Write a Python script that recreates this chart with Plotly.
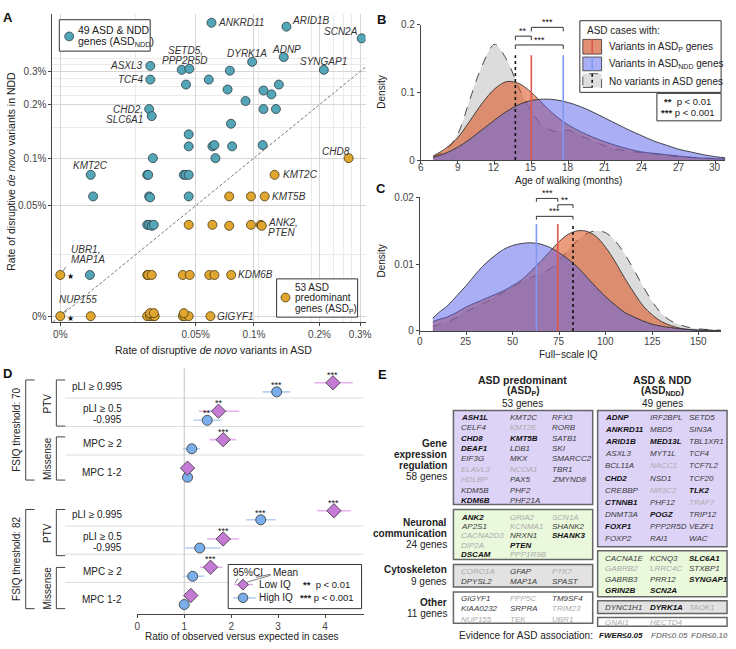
import numpy as np
import plotly.graph_objects as go

W, H = 736, 649
FONT = "Liberation Sans, Arial, Helvetica, sans-serif"
TXT = "#222222"
AX = "#444444"


def PX(x):
    return x / W


def PY(y):
    return 1 - y / H


def T(v):
    return np.log10(np.asarray(v, dtype=float) + 0.02)


# ======================= Panel A data (rates, %) =======================
A_TICKS = [0, 0.05, 0.1, 0.2, 0.3]
A_TICK_TEXT = ["0%", "0.05%", "0.1%", "0.2%", "0.3%"]
A_MINOR_X = [0.02, 0.105, 0.185, 0.23, 0.255, 0.275]
A_MINOR_Y = [0.02, 0.15, 0.225, 0.25, 0.275, 0.325, 0.35]

NDD_X = [0.061, 0.142, 0.305, 0.138, 0.098, 0.209, 0.026, 0.0415, 0.046, 0.076,
         0.026, 0.044, 0.059, 0.074, 0.111, 0.131, 0.121, 0.091, 0.0255, 0.0266,
         0.111, 0.127, 0.077, 0.0456, 0.0456, 0.0617, 0.0632, 0.078, 0.110, 0.0271,
         0.064, 0.0065, 0.0247, 0.0251, 0.0427, 0.0438, 0.0456, 0.0071, 0.0255, 0.0259,
         0.0456, 0.0247, 0.0255, 0.0266, 0.0275, 0.0063]
NDD_Y = [0.536, 0.512, 0.446, 0.357, 0.337, 0.306, 0.321, 0.306, 0.310, 0.303,
         0.272, 0.256, 0.272, 0.241, 0.238, 0.256, 0.227, 0.209, 0.189, 0.173,
         0.189, 0.189, 0.157, 0.137, 0.117, 0.117, 0.119, 0.117, 0.119, 0.0999,
         0.0999, 0.0792, 0.0792, 0.0792, 0.0792, 0.0792, 0.0792, 0.0577, 0.0577, 0.0568,
         0.0577, 0.0363, 0.0363, 0.0357, 0.0363, 0.0119]

P_X = [0.268, 0.1252, 0.0754, 0.0967, 0.1125, 0.0456, 0.0617, 0.0754, 0.0967, 0.1078,
       0.109, 0.0, 0.0247, 0.0251, 0.0266, 0.0421, 0.0462, 0.0594, 0.0632, 0.0772,
       0.0, 0.0065, 0.0247, 0.0259, 0.0271, 0.0279, 0.0259, 0.0275, 0.0421, 0.0432,
       0.0456, 0.0427, 0.0602]
P_Y = [0.0999, 0.0792, 0.0577, 0.0577, 0.0577, 0.0363, 0.0363, 0.0357, 0.0363, 0.0363,
       0.0357, 0.0119, 0.0119, 0.0119, 0.0119, 0.0119, 0.0119, 0.0119, 0.0119, 0.0119,
       0.0, 0.0, 0.0, 0.0, 0.0, 0.0, 0.0007, 0.0007, 0.0, 0.0,
       0.0, 0.0007, 0.0]

# (label lines, series, point index, xanchor, dx px, dy px)
A_LABELS = [
    ("ANKRD11", "ndd", 0, "left", 6, 0),
    ("ARID1B", "ndd", 1, "left", 5, 6),
    ("SCN2A", "ndd", 2, "right", -3, 7),
    ("ADNP", "ndd", 3, "center", 3, 8),
    ("DYRK1A", "ndd", 4, "center", -5, 8),
    ("SYNGAP1", "ndd", 5, "center", 0, 8),
    ("SETD5,|PPP2R5D", "ndd", 8, "center", -4, 18),
    ("ASXL3", "ndd", 6, "right", -6, 0),
    ("TCF4", "ndd", 10, "right", -6, 0),
    ("CHD2,|SLC6A1", "ndd", 18, "right", -5, 0),
    ("KMT2C", "ndd", 31, "center", 0, 9),
    ("CHD8", "p", 0, "center", -13, 7),
    ("KMT2C", "p", 1, "left", 7, 0),
    ("KMT5B", "p", 4, "left", 6, 0),
    ("ANK2,|PTEN", "p", 10, "left", 5, 3),
    ("KDM6B", "p", 19, "left", 6, 0),
    ("GIGYF1", "p", 32, "left", 6, 0),
    ("UBR1,|MAP1A", "p", 11, "left", 10, 25),
    ("NUP155", "p", 20, "left", -2, 17),
]
A_STARRED = [11, 20]  # ASD_P genes marked with a star

# ======================= Panel B data =======================
B_MONTHS = [7, 8, 9, 10, 11, 12, 13, 14, 15, 16, 17, 18, 19, 20, 21, 22, 23, 24,
            25, 26, 27, 28, 29, 30, 31]
B_TICKS = [6, 9, 12, 15, 18, 21, 24, 27, 30]
B_NONE = [0.005, 0.014, 0.038, 0.090, 0.140, 0.171, 0.148, 0.106, 0.072, 0.050,
          0.042, 0.044, 0.036, 0.028, 0.021, 0.016, 0.013, 0.011, 0.009, 0.007,
          0.005, 0.004, 0.003, 0.002, 0.001]
B_P = [0.006, 0.017, 0.033, 0.058, 0.084, 0.105, 0.116, 0.113, 0.100, 0.082,
       0.065, 0.052, 0.042, 0.034, 0.027, 0.021, 0.016, 0.012, 0.010, 0.008,
       0.006, 0.004, 0.003, 0.002, 0.002]
B_NDD = [0.004, 0.010, 0.019, 0.031, 0.045, 0.059, 0.072, 0.082, 0.088, 0.090,
         0.089, 0.085, 0.079, 0.071, 0.062, 0.053, 0.044, 0.036, 0.028, 0.022,
         0.016, 0.012, 0.008, 0.005, 0.003]
B_MED_NONE, B_MED_P, B_MED_NDD = 13.7, 15.0, 17.6

# ======================= Panel C data =======================
C_IQ = [7, 10, 15, 20, 25, 30, 35, 40, 45, 50, 55, 60, 65, 70, 75, 80, 85, 90, 95,
        100, 105, 110, 115, 120, 125, 130, 135, 140, 145, 150, 155, 162]
C_TICKS = [0, 25, 50, 75, 100, 125, 150]
C_NDD = [0.0019, 0.0027, 0.0038, 0.0053, 0.0068, 0.0085, 0.0100, 0.0112, 0.0122, 0.0128,
         0.0131, 0.0132, 0.0130, 0.0125, 0.0117, 0.0107, 0.0095, 0.0080, 0.0065, 0.0051,
         0.0039, 0.0028, 0.0021, 0.0015, 0.0010, 0.0007, 0.0005, 0.0003, 0.0002, 0.0001,
         0.0001, 0.0000]
C_P = [0.0014, 0.0017, 0.0021, 0.0028, 0.0036, 0.0042, 0.0048, 0.0054, 0.0060, 0.0068,
       0.0077, 0.0090, 0.0104, 0.0119, 0.0134, 0.0145, 0.0150, 0.0149, 0.0141, 0.0125,
       0.0104, 0.0080, 0.0058, 0.0038, 0.0024, 0.0014, 0.0008, 0.0004, 0.0002, 0.0001,
       0.0001, 0.0000]
C_NONE = [0.0007, 0.0009, 0.0014, 0.0020, 0.0029, 0.0035, 0.0042, 0.0050, 0.0058, 0.0066,
          0.0074, 0.0080, 0.0086, 0.0093, 0.0106, 0.0122, 0.0136, 0.0146, 0.0150, 0.0147,
          0.0135, 0.0116, 0.0092, 0.0067, 0.0044, 0.0026, 0.0015, 0.0009, 0.0005, 0.0003,
          0.0002, 0.0001]
C_MED_NONE, C_MED_P, C_MED_NDD = 82.4, 74.2, 62.7

# ======================= Panel D data =======================
D_ROWS = ["pLI ≥ 0.995", "pLI ≥ 0.5|-0.995", "MPC ≥ 2", "MPC 1-2"]
D70_LOW = [4.17, 1.73, 1.83, 1.07]
D70_LOW_LO = [3.77, 1.31, 1.54, 0.93]
D70_LOW_HI = [4.59, 2.17, 2.11, 1.22]
D70_HIGH = [2.97, 1.49, 1.16, 1.07]
D70_HIGH_LO = [2.67, 1.20, 0.97, 0.99]
D70_HIGH_HI = [3.26, 1.79, 1.33, 1.18]
D82_LOW = [4.19, 1.83, 1.56, 1.14]
D82_LOW_LO = [3.83, 1.49, 1.33, 1.03]
D82_LOW_HI = [4.55, 2.17, 1.81, 1.24]
D82_HIGH = [2.63, 1.33, 1.18, 1.00]
D82_HIGH_LO = [2.32, 1.02, 0.97, 0.95]
D82_HIGH_HI = [2.95, 1.77, 1.43, 1.06]
D70_LOW_SIG = ["***", "**", "***", ""]
D70_HIGH_SIG = ["***", "**", "", ""]
D82_LOW_SIG = ["***", "***", "***", ""]
D82_HIGH_SIG = ["***", "", "", ""]

# ======================= Panel E data =======================
# suffix * = FWER<=0.05, none = FDR<=0.05, ~ = FDR<=0.10
E_EXPR_P = ("ASH1L* CELF4 CHD8* DEAF1* EIF3G ELAVL3~ HDLBP~ KDM5B KDM6B* "
            "KMT2C KMT2E~ KMT5B* LDB1 MKX NCOA1~ PAX5 PHF2 PHF21A "
            "RFX3 RORB SATB1 SKI SMARCC2 TBR1 ZMYND8")
E_EXPR_NDD = ("ADNP* ANKRD11* ARID1B* ASXL3 BCL11A CHD2* CREBBP CTNNB1* DNMT3A FOXP1* FOXP2 "
              "IRF2BPL MBD5 MED13L* MYT1L NACC1~ NSD1 NR3C2~ PHF12 POGZ* PPP2R5D RAI1 "
              "SETD5 SIN3A TBL1XR1 TCF4 TCF7L2 TCF20 TLK2* TRAF7~ TRIP12 VEZF1 WAC")
E_NEURO_P = "ANK2* AP2S1 CACNA2D3~ DIP2A~ DSCAM* GRIA2~ KCNMA1~ NRXN1 PTEN* PPP1R9B~ SCN1A~ SHANK2 SHANK3*"
E_NEURO_NDD = "CACNA1E GABRB2~ GABRB3 GRIN2B* KCNQ3 LRRC4C~ PRR12 SCN2A* SLC6A1* STXBP1 SYNGAP1*"
E_CYTO_P = "CORO1A~ DPYSL2 GFAP MAP1A PTK7~ SPAST"
E_CYTO_NDD = "DYNC1H1 DYRK1A* TAOK1~"
E_OTHER_P = "GIGYF1 KIAA0232 NUP155~ PPP5C~ SRPRA TEK~ TM9SF4 TRIM23~ UBR1~"
E_OTHER_NDD = "GNAI1~ HECTD4~"

# ======================= Styles =======================
TEAL = "#52a6b8"
GOLD = "#e0a630"
GRAY_FILL = "rgba(197,197,197,0.6)"
ORANGE_FILL = "rgba(220,83,33,0.58)"
BLUE_FILL = "rgba(85,95,235,0.5)"
RED_LINE = "#e0584a"
BLUE_LINE = "#7f98f0"
DIAMOND = "#c57ad6"
DIAMOND_CI = "#e6b2ee"
CIRCLE = "#7aaeea"
CIRCLE_CI = "#b5cff2"

fig = go.Figure()
annotations = []
shapes = []


def ann(x, y, text, size=10, color=TXT, xanchor="center", yanchor="middle",
        xref="paper", yref="paper", xshift=0, yshift=0, angle=0):
    if xref == "paper":
        x = PX(x)
    if yref == "paper":
        y = PY(y)
    annotations.append(dict(x=x, y=y, xref=xref, yref=yref, text=text, showarrow=False,
                            font=dict(family=FONT, size=size, color=color),
                            xanchor=xanchor, yanchor=yanchor, xshift=xshift,
                            yshift=yshift, textangle=angle, borderpad=0))


def rect(x0, y0, x1, y1, fill="rgba(0,0,0,0)", line="#444", width=1, dash=None, layer="above"):
    ln = dict(color=line, width=width)
    if dash:
        ln["dash"] = dash
    shapes.append(dict(type="rect", xref="paper", yref="paper", x0=PX(x0), x1=PX(x1),
                       y0=PY(y1), y1=PY(y0), fillcolor=fill, line=ln, layer=layer))


def pline(x0, y0, x1, y1, color="#444", width=1, dash=None, layer="above"):
    ln = dict(color=color, width=width)
    if dash:
        ln["dash"] = dash
    shapes.append(dict(type="line", xref="paper", yref="paper", x0=PX(x0), y0=PY(y0),
                       x1=PX(x1), y1=PY(y1), line=ln, layer=layer))


def pcircle(cx, cy, r, fill, line="#333"):
    shapes.append(dict(type="circle", xref="paper", yref="paper", x0=PX(cx - r), x1=PX(cx + r),
                       y0=PY(cy + r), y1=PY(cy - r), fillcolor=fill,
                       line=dict(color=line, width=0.8)))


def pdiamond(cx, cy, r, fill, line="#333"):
    path = "M {a},{b} L {c},{d} L {a},{e} L {f},{d} Z".format(
        a=PX(cx), b=PY(cy - r), c=PX(cx + r), d=PY(cy), e=PY(cy + r), f=PX(cx - r))
    shapes.append(dict(type="path", xref="paper", yref="paper", path=path, fillcolor=fill,
                       line=dict(color=line, width=0.8)))


def bracket(x0, x1, y0, y1):
    # vertical bracket "[" : spine at x0, arms to x1
    pline(x1, y0, x0, y0)
    pline(x0, y0, x0, y1)
    pline(x0, y1, x1, y1)


# ======================= Panel A =======================
fig.add_trace(go.Scatter(x=T([-0.0013, 0.33]), y=T([-0.0013, 0.33]), mode="lines",
                         line=dict(color="#777777", width=1, dash="3px,2px"),
                         xaxis="x", yaxis="y", hoverinfo="skip"))
fig.add_trace(go.Scatter(x=T(NDD_X), y=T(NDD_Y), mode="markers",
                         marker=dict(size=9, color=TEAL, line=dict(color="#2f3b40", width=0.8)),
                         xaxis="x", yaxis="y", hoverinfo="skip"))
fig.add_trace(go.Scatter(x=T(P_X), y=T(P_Y), mode="markers",
                         marker=dict(size=9, color=GOLD, line=dict(color="#4a3a10", width=0.8)),
                         xaxis="x", yaxis="y", hoverinfo="skip"))

for text, series, idx, xa, dx, dy in A_LABELS:
    xs, ys = (NDD_X, NDD_Y) if series == "ndd" else (P_X, P_Y)
    px_, py_ = float(T(xs[idx])), float(T(ys[idx]))
    for j, line in enumerate(text.split("|")):
        ann(px_, py_, "<i>%s</i>" % line, size=10, color="#333333", xanchor=xa,
            xref="x", yref="y", xshift=dx, yshift=dy - 10 * j)

for idx in A_STARRED:
    ann(float(T(P_X[idx])), float(T(P_Y[idx])), "★", size=8, color="#111111",
        xref="x", yref="y", xshift=10, yshift=-2)

# leader lines from the stacked labels to their points
for idx, ax_, ay_ in [(11, 7, -10), (20, 9, -10)]:
    annotations.append(dict(x=float(T(P_X[idx])), y=float(T(P_Y[idx])), xref="x", yref="y",
                            text=" ", showarrow=True, arrowhead=0, arrowwidth=0.7,
                            arrowcolor="#555555", ax=ax_, ay=ay_, standoff=4,
                            font=dict(size=1)))

# legends of panel A
rect(57, 14, 149, 46, fill="white", line="#333", width=1)
pcircle(67, 31, 4.5, TEAL, "#2f3b40")
ann(75, 24.5, "49 ASD &amp; NDD", size=10.5, xanchor="left")
ann(75, 37, "genes (ASD<sub>NDD</sub>)", size=10.5, xanchor="left")

rect(277, 278, 359, 317, fill="white", line="#333", width=1)
pcircle(286, 297, 4.5, GOLD, "#4a3a10")
ann(295, 286.5, "53 ASD", size=10, xanchor="left")
ann(295, 297.5, "predominant", size=10, xanchor="left")
ann(295, 309, "genes (ASD<sub>P</sub>)", size=10, xanchor="left")

ann(213, 350, "Rate of disruptive <i>de novo</i> variants in ASD", size=10.5)
ann(8, 168, "Rate of disruptive <i>de novo</i> variants in NDD", size=10.5, angle=-90)

# ======================= Panel B =======================
for yv, fc, dash in [(B_NONE, GRAY_FILL, "dash"), (B_P, ORANGE_FILL, "solid"),
                     (B_NDD, BLUE_FILL, "solid")]:
    fig.add_trace(go.Scatter(x=B_MONTHS, y=yv, mode="lines", fill="tozeroy", fillcolor=fc,
                             line=dict(color="#333333", width=0.9, dash=dash,
                                       shape="spline", smoothing=0.9),
                             xaxis="x2", yaxis="y2", hoverinfo="skip"))

for m, col, dash in [(B_MED_P, RED_LINE, "solid"), (B_MED_NDD, BLUE_LINE, "solid"),
                     (B_MED_NONE, "#111111", "dot")]:
    fig.add_trace(go.Scatter(x=[m, m], y=[0, 0.155], mode="lines",
                             line=dict(color=col, width=1.6, dash=dash),
                             xaxis="x2", yaxis="y2", hoverinfo="skip"))


def add_bracket(a, b, h, tick, stars, xa, ya):
    fig.add_trace(go.Scatter(x=[a, a, b, b], y=[h - tick, h, h, h - tick], mode="lines",
                             line=dict(color="#333333", width=1), xaxis=xa, yaxis=ya,
                             hoverinfo="skip", cliponaxis=False))
    ann((a + b) / 2, h, stars, size=9, color="#111111", xref=xa, yref=ya, yshift=5)


add_bracket(B_MED_NONE, B_MED_P, 0.183, 0.006, "**", "x2", "y2")
add_bracket(B_MED_P, B_MED_NDD, 0.196, 0.006, "***", "x2", "y2")
add_bracket(B_MED_NONE, B_MED_NDD, 0.170, 0.006, "***", "x2", "y2")

for t in B_TICKS:
    ann(t, 165, str(t), size=10, color="#444", xref="x2")

# legend B
rect(584, 15, 727, 88, fill="white", line="#333", width=1)
ann(590, 24.5, "ASD cases with:", size=10, xanchor="left")
rect(587, 34, 606, 49, fill="#e08f72", line="#333", width=0.8)
pline(596.5, 34, 596.5, 49, color=RED_LINE, width=1.6)
ann(612, 41.5, "Variants in ASD<sub>P</sub> genes", size=10, xanchor="left")
rect(587, 52, 606, 66, fill="#aab0f5", line="#333", width=0.8)
pline(596.5, 52, 596.5, 66, color=BLUE_LINE, width=1.6)
ann(612, 59, "Variants in ASD<sub>NDD</sub> genes", size=10, xanchor="left")
rect(587, 69, 606, 83, fill="#dedede", line="#333", width=0.8, dash="dash")
pline(596.5, 69, 596.5, 83, color="#111", width=1.6, dash="dot")
ann(612, 76.5, "No variants in ASD genes", size=10, xanchor="left")
rect(662, 89, 727, 117, fill="white", line="#333", width=1)
ann(668, 97.5, "<b>**</b>  p &lt; 0.01", size=9.5, xanchor="left")
ann(665, 108.5, "<b>***</b> p &lt; 0.001", size=9.5, xanchor="left")

ann(383, 88, "Density", size=10, angle=-90)
ann(572, 178, "Age of walking (months)", size=10)

# ======================= Panel C =======================
for yv, fc, dash in [(C_NONE, GRAY_FILL, "dash"), (C_P, ORANGE_FILL, "solid"),
                     (C_NDD, BLUE_FILL, "solid")]:
    fig.add_trace(go.Scatter(x=C_IQ, y=yv, mode="lines", fill="tozeroy", fillcolor=fc,
                             line=dict(color="#333333", width=0.9, dash=dash,
                                       shape="spline", smoothing=0.9),
                             xaxis="x3", yaxis="y3", hoverinfo="skip"))

for m, col, dash in [(C_MED_NDD, BLUE_LINE, "solid"), (C_MED_P, RED_LINE, "solid"),
                     (C_MED_NONE, "#111111", "dot")]:
    fig.add_trace(go.Scatter(x=[m, m], y=[0, 0.016], mode="lines",
                             line=dict(color=col, width=1.6, dash=dash),
                             xaxis="x3", yaxis="y3", hoverinfo="skip"))

add_bracket(C_MED_NDD, C_MED_P, 0.01985, 0.0005, "***", "x3", "y3")
add_bracket(C_MED_P, C_MED_NONE, 0.0189, 0.0005, "**", "x3", "y3")
add_bracket(C_MED_NDD, C_MED_NONE, 0.01716, 0.0005, "***", "x3", "y3")

for t in C_TICKS:
    ann(t, 342, str(t), size=10, color="#444", xref="x3")

ann(383, 260, "Density", size=10, angle=-90)
ann(572, 355, "Full−scale IQ", size=10)

# ======================= Panel D =======================
D_GROUPS = [
    ("x4", "y4", D70_LOW, D70_LOW_LO, D70_LOW_HI, D70_HIGH, D70_HIGH_LO, D70_HIGH_HI,
     D70_LOW_SIG, D70_HIGH_SIG),
    ("x5", "y5", D82_LOW, D82_LOW_LO, D82_LOW_HI, D82_HIGH, D82_HIGH_LO, D82_HIGH_HI,
     D82_LOW_SIG, D82_HIGH_SIG),
]
for xa, ya, lo, lo_l, lo_h, hi, hi_l, hi_h, lsig, hsig in D_GROUPS:
    n = len(D_ROWS)
    y_low = [i - 0.04 for i in range(n)]
    y_high = [i + 0.28 for i in range(n)]
    fig.add_trace(go.Scatter(
        x=hi, y=y_high, mode="markers",
        marker=dict(symbol="circle", size=10, color=CIRCLE, line=dict(color="#333", width=0.8)),
        error_x=dict(type="data", symmetric=False,
                     array=[h - m for h, m in zip(hi_h, hi)],
                     arrayminus=[m - l for l, m in zip(hi_l, hi)],
                     color=CIRCLE_CI, thickness=1.6, width=0),
        xaxis=xa, yaxis=ya, hoverinfo="skip"))
    fig.add_trace(go.Scatter(
        x=lo, y=y_low, mode="markers",
        marker=dict(symbol="diamond", size=11, color=DIAMOND, line=dict(color="#333", width=0.8)),
        error_x=dict(type="data", symmetric=False,
                     array=[h - m for h, m in zip(lo_h, lo)],
                     arrayminus=[m - l for l, m in zip(lo_l, lo)],
                     color=DIAMOND_CI, thickness=1.6, width=0),
        xaxis=xa, yaxis=ya, hoverinfo="skip"))
    for i in range(n):
        if lsig[i]:
            ann(lo[i], y_low[i], lsig[i], size=9, color="#111", xref=xa, yref=ya, yshift=8)
        if hsig[i]:
            ann(hi[i], y_high[i], hsig[i], size=9, color="#111", xref=xa, yref=ya, yshift=7)
        parts = D_ROWS[i].split("|")
        if len(parts) == 1:
            ann(121, i, parts[0], size=10, xanchor="right", xref="paper", yref=ya, yshift=-3)
        else:
            ann(121, i, parts[0], size=10, xanchor="right", xref="paper", yref=ya, yshift=4)
            ann(121, i, parts[1], size=10, xanchor="right", xref="paper", yref=ya, yshift=-7)
    for b in [0.5, 1.5, 2.5]:
        shapes.append(dict(type="line", xref="paper", yref=ya, x0=PX(63), x1=PX(365),
                           y0=b, y1=b, line=dict(color="#dddddd", width=1), layer="below"))

shapes.append(dict(type="line", xref="x5", yref="paper", x0=1, x1=1, y0=PY(619), y1=PY(369),
                   line=dict(color="#c4c4c4", width=1), layer="below"))

# D brackets and group labels
for top, ptv_end, mis_start, bottom, thr in [(381, 428, 439, 483, "70"),
                                             (513, 560, 572, 614, "82")]:
    bracket(54, 63, top, ptv_end)
    bracket(54, 63, mis_start, bottom)
    bracket(23, 32, top, bottom)
    ann(45, (top + ptv_end) / 2, "PTV", size=10, angle=-90)
    ann(45, (mis_start + bottom) / 2, "Missense", size=10, angle=-90)
    ann(13, (top + bottom) / 2, "FSIQ threshold: " + thr, size=10, angle=-90)

# D legend
rect(228, 569, 363, 614, fill="white", line="#333", width=1)
ann(232, 577, "95%CI", size=10, xanchor="left")
ann(272, 577, "Mean", size=10, xanchor="left")
pline(256, 582, 271, 579, color="#444", width=0.7)
pline(238, 583, 235, 588, color="#444", width=0.7)
pline(271, 580, 247, 587, color="#444", width=0.7)
pline(234, 589.5, 253, 589.5, color=DIAMOND_CI, width=1.6)
pdiamond(243, 589.5, 5.5, DIAMOND)
ann(258, 589.5, "Low IQ", size=10, xanchor="left")
pline(233, 603, 256, 603, color=CIRCLE_CI, width=1.6)
pcircle(243, 603, 4.8, CIRCLE)
ann(258, 603, "High IQ", size=10, xanchor="left")
ann(303, 589.5, "<b>**</b>  p &lt; 0.01", size=9.5, xanchor="left")
ann(300, 603, "<b>***</b> p &lt; 0.001", size=9.5, xanchor="left")

ann(241, 642, "Ratio of observed versus expected in cases", size=10)

# ======================= Panel E =======================
LEFT_COLS = [463, 512, 555]
RIGHT_COLS = [608, 654, 693]


def gene_box(genes, x0, x1, y0, y1, fill, cols, row0, dy, nrows):
    rect(x0, y0, x1, y1, fill=fill, line="#666666", width=1.5, layer="below")
    for k, g in enumerate(genes.split()):
        c, r = divmod(k, nrows)
        if g.endswith("*"):
            txt, col = "<b><i>%s</i></b>" % g[:-1], "#111111"
        elif g.endswith("~"):
            txt, col = "<i>%s</i>" % g[:-1], "#ababab"
        else:
            txt, col = "<i>%s</i>" % g, "#3a3a3a"
        ann(cols[c], row0 + r * dy, txt, size=8, color=col, xanchor="left")


PURPLE_BOX = "#ddd3f7"
GREEN_BOX = "#eaf8dc"
GRAY_BOX = "#e2e2e2"
gene_box(E_EXPR_P, 456, 597, 412, 508, PURPLE_BOX, LEFT_COLS, 419, 10.6, 9)
gene_box(E_EXPR_NDD, 602, 733, 412, 551, PURPLE_BOX, RIGHT_COLS, 419, 12.4, 11)
gene_box(E_NEURO_P, 456, 597, 513, 564, GREEN_BOX, LEFT_COLS, 521, 9.4, 5)
gene_box(E_NEURO_NDD, 602, 733, 555, 602, GREEN_BOX, RIGHT_COLS, 562.5, 11.1, 4)
gene_box(E_CYTO_P, 456, 597, 569, 592, GRAY_BOX, LEFT_COLS, 576, 10, 2)
gene_box(E_CYTO_NDD, 602, 733, 606, 619, GRAY_BOX, RIGHT_COLS, 612.5, 10, 1)
gene_box(E_OTHER_P, 456, 597, 597, 629, "white", LEFT_COLS, 603.5, 10.8, 3)
gene_box(E_OTHER_NDD, 602, 733, 623, 632, "white", RIGHT_COLS, 628, 10, 1)

for cx, name, sub, count in [(526, "ASD predominant", "P", "53 genes"),
                             (668, "ASD &amp; NDD", "NDD", "49 genes")]:
    ann(cx, 381, "<b>%s</b>" % name, size=10.5)
    ann(cx, 392.5, "<b>(ASD<sub>%s</sub>)</b>" % sub, size=10)
    ann(cx, 405, count, size=10)

for y, t in [(446, "<b>Gene</b>"), (457, "<b>expression</b>"), (468, "<b>regulation</b>"),
             (479, "58 genes"), (526, "<b>Neuronal</b>"), (537, "<b>communication</b>"),
             (549, "24 genes"), (574, "<b>Cytoskeleton</b>"), (586, "9 genes"),
             (608, "<b>Other</b>"), (619, "11 genes")]:
    ann(451, y, t, size=10, xanchor="right")

ann(529, 641, "Evidence for ASD association:", size=10)
ann(602, 641, "<b><i>FWER≤0.05</i></b>", size=8, color="#111", xanchor="left")
ann(655, 641, "<i>FDR≤0.05</i>", size=8, color="#555", xanchor="left")
ann(695, 641, "<b><i>FDR≤0.10</i></b>", size=8, color="#8a8a8a", xanchor="left")

# panel letters
for x, y, t in [(5, 12, "A"), (383, 14, "B"), (383, 186, "C"), (5, 374, "D"), (384, 375, "E")]:
    ann(x, y, "<b>%s</b>" % t, size=13, color="#111")

# ======================= Axes =======================
tickfont = dict(family=FONT, size=10, color="#444")
base = dict(showline=True, linecolor=AX, linewidth=1, ticks="outside", ticklen=3,
            tickcolor=AX, zeroline=False, tickfont=tickfont, fixedrange=True)

T0 = float(T(0))
layout_axes = dict(
    xaxis=dict(base, domain=[PX(50), PX(367)], range=[T0 - 8 / 252, T0 + 309 / 252],
               tickmode="array", tickvals=list(T(A_TICKS)), ticktext=A_TICK_TEXT,
               showgrid=True, gridcolor="#d6d6d6", gridwidth=1, anchor="y",
               minor=dict(tickmode="array", tickvals=list(T(A_MINOR_X)), showgrid=True,
                          gridcolor="#ebebeb", gridwidth=1, ticks="")),
    yaxis=dict(base, domain=[PY(322), PY(8)], range=[T0 - 6 / 207, T0 + 308 / 207],
               tickmode="array", tickvals=list(T(A_TICKS)), ticktext=A_TICK_TEXT,
               showgrid=True, gridcolor="#d6d6d6", gridwidth=1, anchor="x",
               minor=dict(tickmode="array", tickvals=list(T(A_MINOR_Y)), showgrid=True,
                          gridcolor="#ebebeb", gridwidth=1, ticks="")),
    xaxis2=dict(base, domain=[PX(423), PX(731)], range=[6, 6 + 308 / 12.43],
                tickmode="array", tickvals=B_TICKS, showticklabels=False,
                showgrid=False, anchor="y2"),
    yaxis2=dict(base, domain=[PY(157), PY(19)], range=[0, 0.2], tickmode="array",
                tickvals=[0, 0.1, 0.2], ticktext=["0", "0.1", "0.2"], showgrid=False,
                anchor="x2"),
    xaxis3=dict(base, domain=[PX(422), PX(727)], range=[0, 305 / 1.882],
                tickmode="array", tickvals=C_TICKS, showticklabels=False,
                showgrid=False, anchor="y3"),
    yaxis3=dict(base, domain=[PY(331), PY(195)], range=[0, 0.02], tickmode="array",
                tickvals=[0, 0.01, 0.02], ticktext=["0", "0.01", "0.02"], showgrid=False,
                anchor="x3"),
    xaxis4=dict(domain=[PX(136), PX(365)], range=[0, 229 / 47.5], visible=False,
                anchor="y4", fixedrange=True),
    yaxis4=dict(domain=[PY(486.5), PY(370.5)], range=[3.5, -0.5], visible=False,
                anchor="x4", fixedrange=True),
    xaxis5=dict(base, domain=[PX(136), PX(365)], range=[0, 229 / 47.5],
                tickmode="array", tickvals=[0, 1, 2, 3, 4], showgrid=False, anchor="y5"),
    yaxis5=dict(domain=[PY(619), PY(501)], range=[3.6, -0.5], visible=False,
                anchor="x5", fixedrange=True),
)

fig.update_layout(
    width=W, height=H, margin=dict(l=0, r=0, t=0, b=0, pad=0),
    paper_bgcolor="white", plot_bgcolor="rgba(0,0,0,0)", showlegend=False,
    font=dict(family=FONT, size=10, color=TXT),
    annotations=annotations, shapes=shapes, **layout_axes,
)

fig.write_html("out.html")
